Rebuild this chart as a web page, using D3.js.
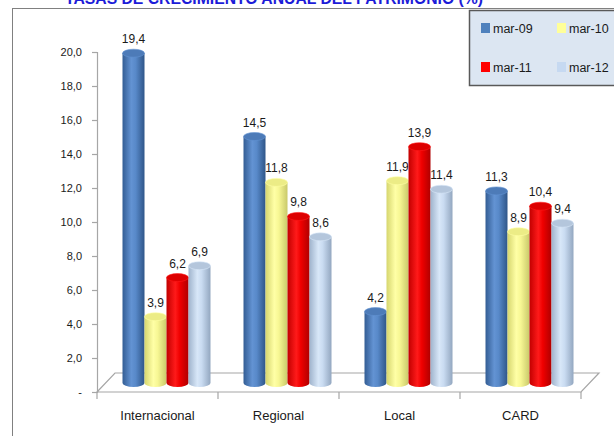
<!DOCTYPE html>
<html><head><meta charset="utf-8">
<script src="https://cdn.jsdelivr.net/npm/d3@7"></script>
<style>body{margin:0;background:#fff}svg{display:block}</style>
</head><body>
<svg id="c" width="614" height="436"></svg>
<script>
const categories = ["Internacional", "Regional", "Local", "CARD"];
const seriesNames = ["mar-09", "mar-10", "mar-11", "mar-12"];
const mar09 = [19.4, 14.5, 4.2, 11.3];
const mar10 = [3.9, 11.8, 11.9, 8.9];
const mar11 = [6.2, 9.8, 13.9, 10.4];
const mar12 = [6.9, 8.6, 11.4, 9.4];
const yTicks = [0, 2, 4, 6, 8, 10, 12, 14, 16, 18, 20];
const yTickLabels = ["-", "2,0", "4,0", "6,0", "8,0", "10,0", "12,0", "14,0", "16,0", "18,0", "20,0"];
const title = "TASAS DE CRECIMIENTO ANUAL DEL PATRIMONIO (%)";

const seriesValues = [mar09, mar10, mar11, mar12];
const colors = [
  {stops:["#335d94","#6393d3","#5889c9","#2f5689"], top:"#4d7bb8", legend:"#4f81bd"},
  {stops:["#d6d66e","#ffffa6","#f7f794","#c9c96a"], top:"#ecec86", legend:"#ffff99"},
  {stops:["#c20000","#ff1a1a","#f00000","#b00000"], top:"#dd0000", legend:"#ff0000"},
  {stops:["#9fb3cc","#d8e7f8","#c9dbf1","#93a7c0"], top:"#b4c6dc", legend:"#c6d9f1"}
];

const svg = d3.select("#c");
const font = "'Liberation Sans', Arial, sans-serif";
const defs = svg.append("defs");
colors.forEach((c, i) => {
  const g = defs.append("linearGradient").attr("id", "g" + i).attr("x1", "0%").attr("x2", "100%").attr("y1", "0%").attr("y2", "0%");
  [0, 0.4, 0.6, 1].forEach((o, k) => g.append("stop").attr("offset", o).attr("stop-color", c.stops[k]));
});

// outer frame
svg.append("rect").attr("x", 12.5).attr("y", 8.5).attr("width", 700).attr("height", 500)
  .attr("fill", "none").attr("stroke", "#808080");

// title (clipped at top)
svg.append("text").attr("x", 65).attr("y", 4).attr("font-family", font).attr("font-weight", "bold")
  .attr("font-size", 16).attr("fill", "#1c1cd8").attr("textLength", 418).attr("lengthAdjust", "spacingAndGlyphs")
  .text(title);

const y = d3.scaleLinear().domain([0, 20]).range([392, 52]);
const x = d3.scaleBand().domain(categories).range([97, 581]).paddingInner(0).paddingOuter(0);
const xs = d3.scaleBand().domain(seriesNames).range([0, 88]);
const dx = 9, dy = 9;

// floor
const x0 = x.range()[0], x1 = x.range()[1], y0 = y(0);
svg.append("path").attr("d", `M${x0},${y0}L${x1},${y0}L${x1 + 18},${y0 - 19}L${x0 + 18},${y0 - 19}Z`)
  .attr("fill", "#fff").attr("stroke", "#a6a6a6").attr("stroke-width", 1.2);

// y axis
const yAxis = d3.axisLeft(y).tickValues(yTicks).tickSize(5).tickPadding(10)
  .tickFormat((d, i) => yTickLabels[i]);
const ga = svg.append("g").attr("transform", `translate(${x0},0)`).call(yAxis);
ga.selectAll("path,line").attr("stroke", "#a6a6a6").attr("stroke-width", 1.2);
ga.selectAll("text").attr("font-family", font).attr("font-size", 11).attr("fill", "#1a1a1a");

// x axis ticks and labels
const bounds = categories.map(c => x(c)).concat([x1]);
svg.selectAll(".xt").data(bounds).enter().append("line")
  .attr("x1", d => d).attr("x2", d => d).attr("y1", y0).attr("y2", y0 + 7)
  .attr("stroke", "#a6a6a6").attr("stroke-width", 1.2);
svg.selectAll(".xl").data(categories).enter().append("text")
  .attr("x", d => x(d) + x.bandwidth() / 2).attr("y", 420).attr("text-anchor", "middle")
  .attr("font-family", font).attr("font-size", 13).attr("fill", "#1a1a1a").text(d => d);

// cylinders
const rx = 11, ry = 4;
categories.forEach((cat, ci) => {
  const gx = x(cat) + x.bandwidth() / 2 - 44 + dx;
  seriesNames.forEach((s, si) => {
    const v = seriesValues[si][ci];
    const cx = gx + xs(s) + xs.bandwidth() / 2;
    const yb = y(0) - dy, yt = y(v) - dy;
    const grp = svg.append("g");
    grp.append("path")
      .attr("d", `M${cx - rx},${yt}L${cx - rx},${yb}A${rx},${ry} 0 0 0 ${cx + rx},${yb}L${cx + rx},${yt}Z`)
      .attr("fill", `url(#g${si})`);
    grp.append("ellipse").attr("cx", cx).attr("cy", yt).attr("rx", rx).attr("ry", ry)
      .attr("fill", colors[si].top).attr("stroke", colors[si].stops[1]).attr("stroke-width", 0.6);
    svg.append("text").attr("x", cx).attr("y", yt - 10).attr("text-anchor", "middle")
      .attr("font-family", font).attr("font-size", 12).attr("fill", "#1a1a1a")
      .text(d3.format(".1f")(v).replace(".", ","));
  });
});

// legend
svg.append("rect").attr("x", 469.5).attr("y", 10.5).attr("width", 160).attr("height", 75)
  .attr("fill", "#dce6f2").attr("stroke", "#595959").attr("stroke-width", 1.5);
const lpos = [[481, 23], [557, 23], [481, 62], [557, 62]];
seriesNames.forEach((s, i) => {
  svg.append("rect").attr("x", lpos[i][0]).attr("y", lpos[i][1]).attr("width", 9).attr("height", 10)
    .attr("fill", colors[i].legend);
  svg.append("text").attr("x", lpos[i][0] + 12).attr("y", lpos[i][1] + 10)
    .attr("font-family", font).attr("font-size", 12.5).attr("fill", "#1a1a1a").text(s);
});
</script>
</body></html>
